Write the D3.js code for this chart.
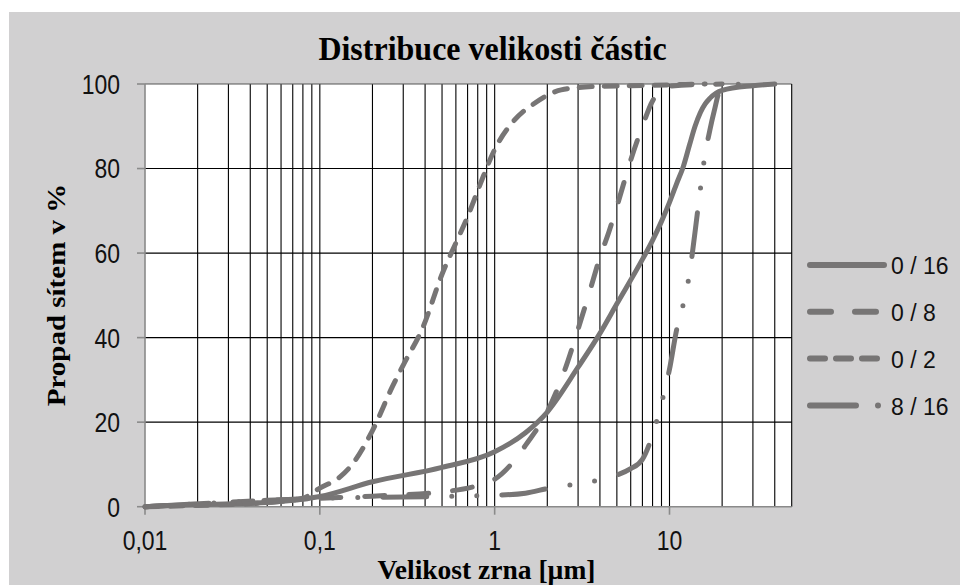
<!DOCTYPE html>
<html>
<head>
<meta charset="utf-8">
<script src="https://cdn.jsdelivr.net/npm/d3@7"></script>
<style>
  body { margin: 0; background: #fff; }
  svg { display: block; }
</style>
</head>
<body>
<div id="chart"></div>
<script>
// chart values
const seriesNames = ["0 / 16", "0 / 8", "0 / 2", "8 / 16"];

const size016 = [0.01, 0.02, 0.05, 0.1, 0.2, 0.5, 1, 1.5, 2, 3, 4, 5, 7, 8, 9, 10, 11, 12, 13, 14, 15, 16, 17, 20, 30, 40];
const pass016 = [0, 0.5, 1, 2.4, 5.9, 9.3, 13, 17.5, 22.4, 33, 41, 48, 58.5, 63, 67.5, 72, 76.5, 80.5, 85.5, 90, 93.2, 95.3, 96.6, 98.5, 99.6, 100];

const size08 = [0.01, 0.05, 0.1, 0.2, 0.5, 0.8, 1, 1.3, 1.5, 2, 2.5, 3, 3.5, 4, 4.5, 5, 6, 7, 8, 10, 20];
const pass08 = [0, 1.5, 2, 2.5, 3.5, 5, 6.5, 11, 14.5, 22.5, 32, 42, 51, 59, 65, 71, 82, 90, 96, 99.5, 100];

const size02 = [0.01, 0.02, 0.05, 0.08, 0.1, 0.13, 0.155, 0.2, 0.26, 0.3, 0.39, 0.5, 0.6, 0.7, 0.83, 1, 1.3, 1.7, 2.4, 3.7, 6, 10, 16];
const pass02 = [0, 0.3, 1, 2, 4.4, 7, 10.3, 18, 28.4, 33.5, 42.6, 55, 62.4, 68.6, 76.5, 84.5, 91.5, 95.5, 98.6, 99.4, 99.6, 99.8, 100];

const size816 = [0.01, 0.05, 0.1, 0.3, 1, 1.5, 2, 4, 5, 6, 7, 8, 9, 10, 11, 12, 13, 14, 15, 16, 17, 18, 19.5, 25];
const pass816 = [0, 1.5, 2, 2.3, 2.7, 3.2, 4.3, 6.4, 7.5, 9, 11.2, 17, 24.5, 32.5, 42, 48, 55, 65, 75, 83.5, 89, 93.5, 98.5, 100];

const xTickLabels = ["0,01", "0,1", "1", "10"];
const yTickValues = [0, 20, 40, 60, 80, 100];

// layout
const width = 960, height = 585;
const plotLeft = 145, plotRight = 791.7, plotTop = 84, plotBottom = 506.7;
const lineColor = "#777575";

let svg = d3.select("#chart")
    .append("svg")
    .attr("width", width)
    .attr("height", height);

// grey panel
svg.append("rect")
    .attr("x", 9).attr("y", 12)
    .attr("width", width - 9).attr("height", height - 12)
    .attr("fill", "#d1d0d1");

let x = d3.scaleLog()
    .domain([0.01, 50])
    .range([plotLeft, plotRight]);

let y = d3.scaleLinear()
    .domain([0, 100])
    .range([plotBottom, plotTop]);

// plot area
svg.append("rect")
    .attr("x", plotLeft).attr("y", plotTop)
    .attr("width", plotRight - plotLeft).attr("height", plotBottom - plotTop)
    .attr("fill", "#fff");

// vertical grid, every 1..9 in each decade
let grid = svg.append("g");
grid.selectAll(".vg")
    .data(x.ticks().filter(d => d > 0.01 && d < 50))
    .enter().append("line")
    .attr("x1", d => x(d)).attr("x2", d => x(d))
    .attr("y1", plotTop).attr("y2", plotBottom)
    .attr("stroke", "#000")
    .attr("stroke-width", 1.1);

grid.selectAll(".hg")
    .data(yTickValues.filter(d => d > 0))
    .enter().append("line")
    .attr("x1", plotLeft).attr("x2", plotRight)
    .attr("y1", d => y(d)).attr("y2", d => y(d))
    .attr("stroke", d => d == 100 ? "#555" : "#000")
    .attr("stroke-width", 1.1);

// right border
svg.append("line")
    .attr("x1", plotRight).attr("x2", plotRight)
    .attr("y1", plotTop).attr("y2", plotBottom)
    .attr("stroke", "#000").attr("stroke-width", 1.1);

// axes (grey)
svg.append("line")
    .attr("x1", plotLeft).attr("x2", plotLeft)
    .attr("y1", plotTop).attr("y2", plotBottom)
    .attr("stroke", "#8a8a8a").attr("stroke-width", 1.6);
svg.append("line")
    .attr("x1", plotLeft).attr("x2", plotRight)
    .attr("y1", plotBottom).attr("y2", plotBottom)
    .attr("stroke", "#8a8a8a").attr("stroke-width", 1.6);

svg.selectAll(".yt")
    .data(yTickValues)
    .enter().append("line")
    .attr("x1", plotLeft - 8).attr("x2", plotLeft)
    .attr("y1", d => y(d)).attr("y2", d => y(d))
    .attr("stroke", "#8a8a8a").attr("stroke-width", 1.6);

let decades = [0.01, 0.1, 1, 10];
svg.selectAll(".xt")
    .data(decades)
    .enter().append("line")
    .attr("x1", d => x(d)).attr("x2", d => x(d))
    .attr("y1", plotBottom).attr("y2", plotBottom + 8)
    .attr("stroke", "#8a8a8a").attr("stroke-width", 1.6);

// tick labels
svg.selectAll(".ytl")
    .data(yTickValues)
    .enter().append("text")
    .attr("transform", d => `translate(120, ${y(d)}) scale(1, 1.2)`)
    .attr("dy", "0.36em")
    .style("text-anchor", "end")
    .style("font-family", "Liberation Sans, Arial, sans-serif")
    .style("font-size", "23px")
    .attr("fill", "#111")
    .text(d => d);

svg.selectAll(".xtl")
    .data(decades)
    .enter().append("text")
    .attr("transform", (d, i) => `translate(${x(d)}, 550) scale(1, 1.2)`)
    .style("text-anchor", "middle")
    .style("font-family", "Liberation Sans, Arial, sans-serif")
    .style("font-size", "23px")
    .attr("fill", "#111")
    .text((d, i) => xTickLabels[i]);

// title and axis titles
svg.append("text")
    .attr("transform", "translate(492.5, 60) scale(1, 1.07)")
    .style("text-anchor", "middle")
    .style("font-family", "Liberation Serif, Times New Roman, serif")
    .style("font-weight", "bold")
    .style("font-size", "32px")
    .text("Distribuce velikosti částic");

svg.append("text")
    .attr("transform", "translate(486.5, 579)")
    .style("text-anchor", "middle")
    .style("font-family", "Liberation Serif, Times New Roman, serif")
    .style("font-weight", "bold")
    .style("font-size", "27.5px")
    .text("Velikost zrna [µm]");

svg.append("text")
    .attr("transform", "translate(64.5, 295) scale(1, 1.16) rotate(-90)")
    .style("text-anchor", "middle")
    .style("font-family", "Liberation Serif, Times New Roman, serif")
    .style("font-weight", "bold")
    .style("font-size", "25px")
    .text("Propad sítem v %");

// series
let series = [
    {name: seriesNames[0], sizes: size016, values: pass016, dash: null},
    {name: seriesNames[1], sizes: size08, values: pass08, dash: "20 24"},
    {name: seriesNames[2], sizes: size02, values: pass02, dash: "13 12"},
    {name: seriesNames[3], sizes: size816, values: pass816, dash: "44 25 0 25 0 25"}
];

let line = d3.line()
    .x(d => x(d[0]))
    .y(d => y(d[1]))
    .curve(d3.curveMonotoneX);

let plot = svg.append("g");
for (let i = 0; i < series.length; i++) {
    let s = series[i];
    let pts = s.sizes.map((v, j) => [v, s.values[j]]);
    plot.append("path")
        .datum(pts)
        .attr("d", line)
        .attr("fill", "none")
        .attr("stroke", lineColor)
        .attr("stroke-width", 5)
        .attr("stroke-linecap", "round")
        .attr("stroke-linejoin", "round")
        .attr("stroke-dasharray", s.dash);
}

// legend
let legendDash = [null, "21 24", "15 11", "46 22 0 40"];
let legend = svg.append("g");
for (let i = 0; i < series.length; i++) {
    let ly = 265 + i * 46.8;
    legend.append("line")
        .attr("x1", 810).attr("x2", 884)
        .attr("y1", ly).attr("y2", ly)
        .attr("stroke", lineColor)
        .attr("stroke-width", 6)
        .attr("stroke-linecap", "round")
        .attr("stroke-dasharray", legendDash[i]);
    legend.append("text")
        .attr("transform", `translate(891, ${ly + 9.3}) scale(1, 1.08)`)
        .style("font-family", "Liberation Sans, Arial, sans-serif")
        .style("font-size", "23px")
        .attr("fill", "#111")
        .text(series[i].name);
}
</script>
</body>
</html>
